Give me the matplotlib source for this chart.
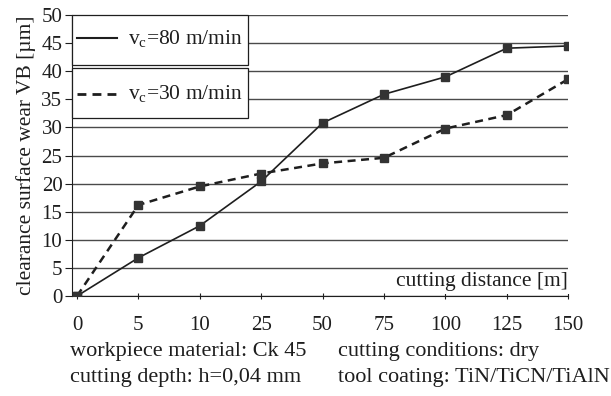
import matplotlib as mpl

mpl.use("Agg")

import matplotlib.pyplot as plt
from matplotlib.lines import Line2D
from matplotlib.patches import Rectangle

mpl.rcParams.update({
    "font.family": ["Liberation Serif", "DejaVu Serif"],
    "font.size": 15,
    "mathtext.fontset": "custom",
    "mathtext.rm": "Liberation Serif",
    "mathtext.it": "Liberation Serif",
})

distances = ["0", "5", "10", "25", "50", "75", "100", "125", "150"]
vb_80 = [0, 6.8, 12.5, 20.4, 30.8, 35.9, 39.0, 44.1, 44.5]
vb_30 = [0, 16.2, 19.5, 21.8, 23.6, 24.6, 29.8, 32.2, 38.6]
y_ticks = [0, 5, 10, 15, 20, 25, 30, 35, 40, 45, 50]

INK = "#1e1e1e"
GRID = "#4a4a4a"
DASH = (0, (3.2, 2.2))

fig = plt.figure(figsize=(6.11, 3.96), dpi=100)
ax = fig.add_axes([0.118, 0.2525, 0.812, 0.7095])

xs = list(range(len(distances)))
ax.plot(xs, vb_80, color=INK, lw=1.2, marker="s", ms=5.5, mfc="#333333", mec="#333333", zorder=4)
ax.plot(xs, vb_30, color=INK, lw=1.8, ls=DASH, marker="s", ms=5.5,
        mfc="#333333", mec="#333333", zorder=4)

ax.set_xlim(-0.08, 8.0)
ax.set_ylim(0, 50)
ax.set_xticks(xs)
ax.set_xticklabels(distances)
ax.set_yticks(y_ticks)
ax.yaxis.grid(True, color=GRID, lw=1.0)
ax.set_axisbelow(True)
for side in ("top", "right"):
    ax.spines[side].set_visible(False)
ax.spines["left"].set_color(INK)
ax.spines["bottom"].set_color(INK)
ax.tick_params(axis="x", direction="inout", length=5, pad=12, colors=INK)
ax.tick_params(axis="y", direction="out", length=5, pad=2, colors=INK)

ax.set_ylabel("clearance surface wear VB [µm]", fontsize=15.5, color=INK, labelpad=4)
ax.text(8.0, 2.5, "cutting distance [m]", ha="right", va="center", fontsize=15.5, color=INK,
        bbox=dict(facecolor="white", edgecolor="none", pad=1.5), zorder=5)

# two stacked legend boxes, drawn in axes fraction
tr = ax.transAxes
legend_rows = [
    (r"v$_\mathregular{c}$=80 m/min", "-", 1.5, 0.822, 1.0, 0.918),
    (r"v$_\mathregular{c}$=30 m/min", DASH, 2.0, 0.633, 0.811, 0.719),
]
for label, ls, lw, y0, y1, yc in legend_rows:
    ax.add_patch(Rectangle((0, y0), 0.355, y1 - y0, transform=tr, facecolor="white",
                           edgecolor=INK, lw=0.9, zorder=6, clip_on=False))
    ax.add_line(Line2D([0.010, 0.091], [yc, yc], transform=tr, color=INK, lw=lw, ls=ls, zorder=7))
    ax.text(0.113, yc, label, transform=tr, ha="left", va="center", fontsize=15.5, color=INK, zorder=7)

fig.text(0.115, 0.112, "workpiece material: Ck 45", fontsize=16, color=INK, va="center")
fig.text(0.115, 0.046, "cutting depth: h=0,04 mm", fontsize=16, color=INK, va="center")
fig.text(0.553, 0.112, "cutting conditions: dry", fontsize=16, color=INK, va="center")
fig.text(0.553, 0.046, "tool coating: TiN/TiCN/TiAlN", fontsize=16, color=INK, va="center")

fig.savefig("out.png", dpi=100)
